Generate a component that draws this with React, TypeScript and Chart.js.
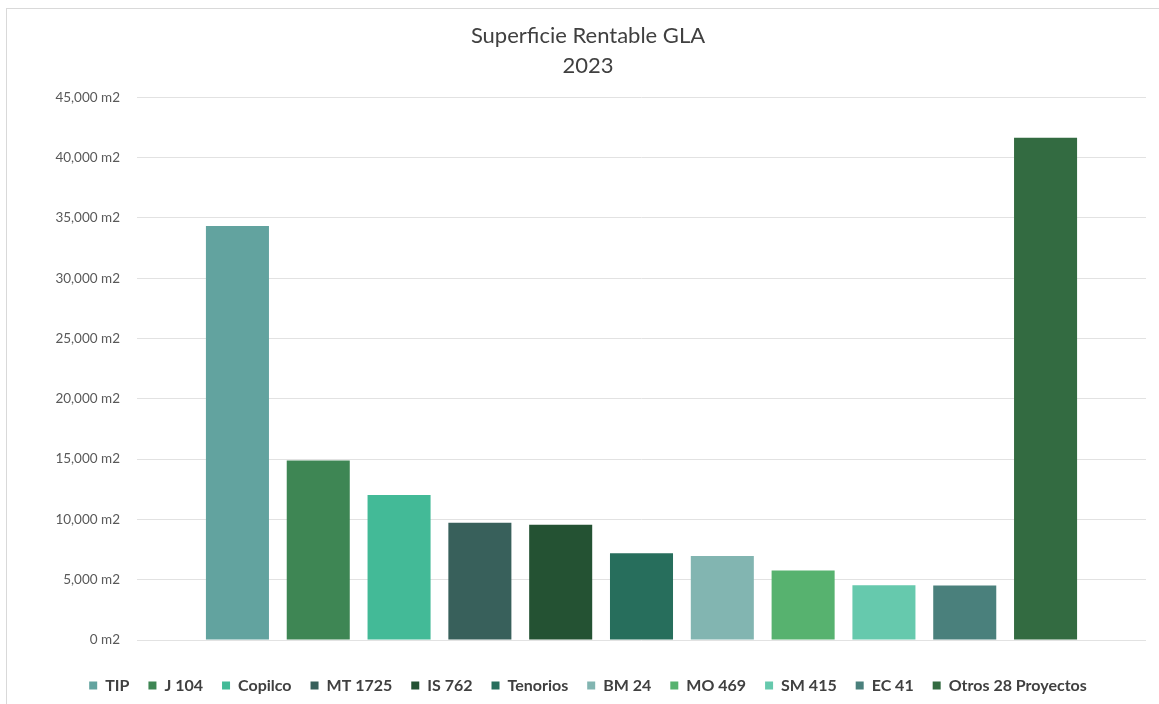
import React, { useEffect, useRef } from "react";
import { Chart, registerables } from "chart.js";

Chart.register(...registerables);

const titleLines: string[] = ["Superficie Rentable GLA", "2023"];
const projects: string[] = [
  "TIP",
  "J 104",
  "Copilco",
  "MT 1725",
  "IS 762",
  "Tenorios",
  "BM 24",
  "MO 469",
  "SM 415",
  "EC 41",
  "Otros 28 Proyectos",
];
const areaValues: number[] = [34330, 14880, 12020, 9720, 9560, 7200, 6960, 5770, 4530, 4520, 41650];
const barColors: string[] = [
  "#62A39F",
  "#3E8654",
  "#43BA97",
  "#38605B",
  "#245233",
  "#276E5C",
  "#82B5B1",
  "#57B26F",
  "#66C9AD",
  "#4A807C",
  "#336B41",
];
const yMin = 0;
const yMax = 45000;
const yStep = 5000;

export default function App() {
  const canvasRef = useRef<HTMLCanvasElement | null>(null);

  useEffect(() => {
    const canvas = canvasRef.current;
    if (!canvas) return;
    const font = "Lato, 'Open Sans', sans-serif";
    const chart = new Chart(canvas, {
      type: "bar",
      data: {
        labels: [""],
        datasets: projects.map((name, i) => ({
          label: name,
          data: [areaValues[i]],
          backgroundColor: barColors[i],
          borderWidth: 0,
          categoryPercentage: 0.881,
          barPercentage: 0.78,
        })),
      },
      options: {
        responsive: false,
        animation: false,
        maintainAspectRatio: false,
        layout: { padding: { left: 0, right: 13, top: 0, bottom: 5.5 } },
        plugins: {
          title: {
            display: true,
            text: titleLines,
            color: "#404040",
            font: { family: font, size: 22, weight: "normal", lineHeight: 30 / 22 },
            padding: { top: 12, bottom: 16.3 },
          },
          legend: {
            display: true,
            position: "bottom",
            labels: {
              boxWidth: 8,
              boxHeight: 8,
              padding: 19,
              color: "#404040",
              font: { family: font, size: 16, weight: "bold" },
            },
          },
          tooltip: { enabled: false },
        },
        scales: {
          x: {
            display: true,
            ticks: { display: false },
            grid: { display: false },
            border: { display: false },
            afterFit: (scale: any) => {
              scale.height = 18.5;
            },
          },
          y: {
            min: yMin,
            max: yMax,
            ticks: {
              stepSize: yStep,
              padding: 17,
              color: "#595959",
              font: { family: font, size: 13.5 },
              callback: (v: any) => Number(v).toLocaleString("en-US") + " m2",
            },
            grid: { color: "#e2e2e2", lineWidth: 1, drawTicks: false },
            border: { display: false },
            afterFit: (scale: any) => {
              scale.width = 107;
            },
          },
        },
      },
    });
    return () => chart.destroy();
  }, []);

  return (
    <div
      style={{
        position: "fixed",
        left: 0,
        top: 0,
        width: 1159,
        height: 704,
        overflow: "hidden",
        background: "#ffffff",
      }}
    >
      <div
        style={{
          position: "absolute",
          left: 6,
          top: 8,
          width: 1180,
          height: 720,
          border: "1px solid #d9d9d9",
          boxSizing: "border-box",
        }}
      />
      <canvas
        ref={canvasRef}
        width={1129}
        height={700}
        style={{ position: "absolute", left: 30, top: 9, width: 1129, height: 700 }}
      />
    </div>
  );
}
